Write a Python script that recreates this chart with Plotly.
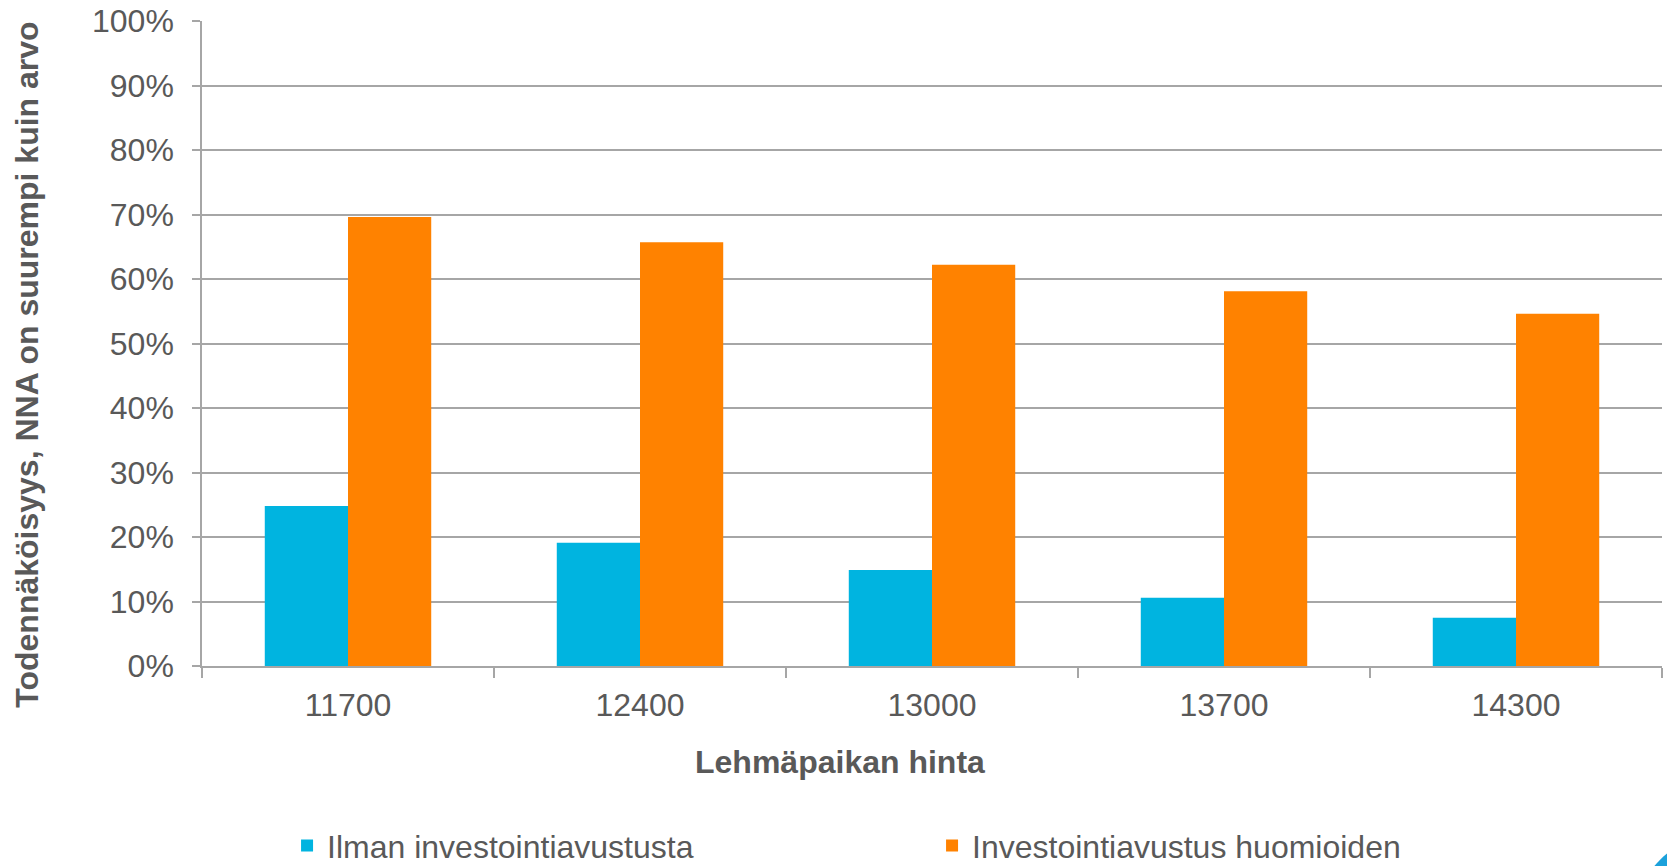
import plotly.graph_objects as go

# Lehmäpaikan hinta (x-akselin luokat)
hinnat = ["11700", "12400", "13000", "13700", "14300"]

# Todennäköisyys, että NNA > arvo
ilman_avustusta = [0.248, 0.191, 0.149, 0.106, 0.075]
avustus_huomioiden = [0.696, 0.657, 0.622, 0.581, 0.546]

sarjat = ["Ilman investointiavustusta", "Investointiavustus huomioiden"]
varit = ["#00B4E0", "#FF8200"]

tekstin_vari = "#595959"
viivan_vari = "#A6A6A6"
fontti = "Liberation Sans, Arial, sans-serif"

fig = go.Figure()
for nimi, arvot, vari in zip(sarjat, [ilman_avustusta, avustus_huomioiden], varit):
    fig.add_trace(go.Bar(x=hinnat, y=arvot, name=nimi, marker_color=vari,
                         marker_line_width=0))

fig.update_layout(
    width=1667, height=866,
    margin=dict(l=202, r=5, t=21, b=200),
    plot_bgcolor="white", paper_bgcolor="white",
    font=dict(family=fontti, size=32, color=tekstin_vari),
    barmode="group", bargap=0.43, bargroupgap=0,
    legend=dict(orientation="h", xref="container", yref="container",
                x=0.1722, xanchor="left", y=0.0235, yanchor="middle",
                entrywidth=600, entrywidthmode="pixels",
                font=dict(size=32, color=tekstin_vari)),
    showlegend=True,
)

fig.update_yaxes(
    range=[0, 1], dtick=0.1, tickformat=".0%", automargin=False,
    showgrid=True, gridcolor=viivan_vari, gridwidth=1.5,
    showline=True, linecolor=viivan_vari, linewidth=1.5,
    ticks="outside", ticklen=8, tickcolor=viivan_vari, tickwidth=1.5,
    ticklabelstandoff=12, ticklabeloverflow="allow", zeroline=False,
)
fig.update_xaxes(
    automargin=False,
    showline=True, linecolor=viivan_vari, linewidth=1.5,
    ticks="outside", tickson="boundaries", ticklen=10,
    tickcolor=viivan_vari, tickwidth=1.5, ticklabelstandoff=10,
)

# Akselien otsikot
fig.add_annotation(text="<b>Lehmäpaikan hinta</b>", xref="paper", yref="paper",
                   x=0.437, y=-0.149, xanchor="center", yanchor="middle",
                   showarrow=False, font=dict(size=32))
fig.add_annotation(text="<b>Todennäköisyys, NNA on suurempi kuin arvo</b>",
                   xref="paper", yref="paper", x=-0.1199, y=0.467,
                   xanchor="center", yanchor="middle",
                   textangle=-90, showarrow=False, font=dict(size=32))

# Sininen kulmakuvio oikeassa alakulmassa
fig.add_shape(type="circle", xref="paper", yref="paper",
              x0=(1720 - 85 - 202) / 1460, x1=(1720 + 85 - 202) / 1460,
              y0=(666 - 920 - 85) / 645, y1=(666 - 920 + 85) / 645,
              fillcolor="#1BA1DB", line_width=0, layer="above")

fig.write_html("out.html", config={"displayModeBar": False},
               post_script="document.body.style.margin='0';")
